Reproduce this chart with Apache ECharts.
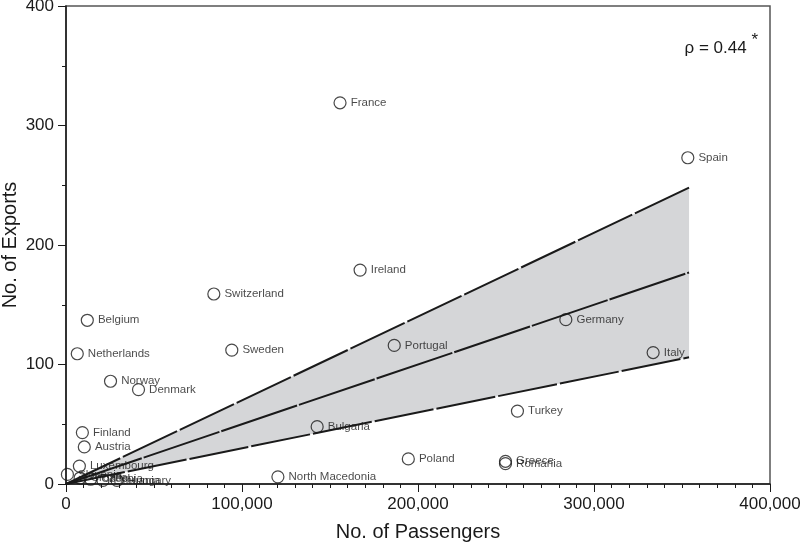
<!DOCTYPE html>
<html>
<head>
<meta charset="utf-8">
<script src="https://cdn.jsdelivr.net/npm/echarts@6/dist/echarts.min.js"></script>
<style>
  html, body { margin: 0; padding: 0; background: #fff; }
  #chart { width: 800px; height: 548px; }
</style>
</head>
<body>
<div id="chart"></div>
<script>
// country data
var countries = ['France', 'Spain', 'Ireland', 'Switzerland', 'Belgium', 'Sweden', 'Portugal',
  'Germany', 'Italy', 'Netherlands', 'Norway', 'Denmark', 'Turkey', 'Bulgaria', 'Finland',
  'Austria', 'Poland', 'Greece', 'Romania', 'North Macedonia', 'Luxembourg',
  'Slovenia', 'Croatia', 'Czechia', 'Lithuania', 'Hungary'];
var passengers = [155700, 353300, 167100, 84000, 12100, 94200, 186500,
  284000, 333600, 6400, 25300, 41200, 256500, 142700, 9300,
  10400, 194500, 249700, 249700, 120400, 7600,
  800, 8000, 14000, 21000, 29000];
var exports = [319, 273, 179, 159, 137, 112, 116,
  137.5, 110, 109, 86, 79, 61, 48, 43,
  31, 21, 19, 17, 6, 15,
  8, 5, 4, 3, 3];

// regression line and confidence band
var fitX = [0, 354000];
var fitMid = [0, 177];
var fitUpper = [0, 248];
var fitLower = [0, 106];

var xTicks = [0, 100000, 200000, 300000, 400000];
var yTicks = [0, 100, 200, 300, 400];

var font = 'Liberation Sans, Arial, Helvetica, sans-serif';
var ink = '#1a1a1a';

var points = countries.map(function (c, i) {
  return { name: c, value: [passengers[i], exports[i]] };
});

function linePoints(ys) {
  return fitX.map(function (x, i) { return [x, ys[i]]; });
}

var bandData = fitX.map(function (x, i) { return [x, fitLower[i], fitUpper[i]]; });

var chart = echarts.init(document.getElementById('chart'));
chart.setOption({
  animation: false,
  grid: {
    left: 66, right: 30, top: 6, bottom: 64,
    outerBoundsMode: 'none', containLabel: false,
    show: true, borderColor: '#555', borderWidth: 1.5, backgroundColor: 'transparent'
  },
  xAxis: {
    type: 'value',
    min: xTicks[0], max: xTicks[xTicks.length - 1], interval: 100000,
    name: 'No. of Passengers', nameLocation: 'middle', nameGap: 38, nameMoveOverlap: false,
    nameTextStyle: { fontFamily: font, fontSize: 20, color: ink },
    axisLine: { lineStyle: { color: ink, width: 1.5 } },
    axisTick: { length: 8, lineStyle: { color: ink } },
    minorTick: { show: true, splitNumber: 10, length: 4, lineStyle: { color: ink } },
    splitLine: { show: false },
    axisLabel: {
      fontFamily: font, fontSize: 17, color: ink, margin: 12,
      formatter: function (v) { return v.toLocaleString('en-US'); }
    }
  },
  yAxis: {
    type: 'value',
    min: yTicks[0], max: yTicks[yTicks.length - 1], interval: 100,
    name: 'No. of Exports', nameLocation: 'middle', nameGap: 46, nameMoveOverlap: false,
    nameTextStyle: { fontFamily: font, fontSize: 20, color: ink },
    axisLine: { lineStyle: { color: ink, width: 1.5 } },
    axisTick: { length: 8, lineStyle: { color: ink } },
    minorTick: { show: true, splitNumber: 2, length: 4, lineStyle: { color: ink } },
    splitLine: { show: false },
    axisLabel: { fontFamily: font, fontSize: 17, color: ink, margin: 12 }
  },
  graphic: [{
    type: 'text', right: 42, top: 32,
    style: {
      text: '{a|ρ = 0.44 }{b|*}',
      rich: {
        a: { fontFamily: font, fontSize: 17, fill: ink, verticalAlign: 'bottom' },
        b: { fontFamily: font, fontSize: 17, fill: ink, verticalAlign: 'top', padding: [0, 0, 8, 0] }
      }
    }
  }],
  series: [
    {
      type: 'custom',
      data: bandData,
      silent: true,
      z: 1,
      renderItem: function (params, api) {
        if (params.dataIndex !== 0) return;
        var pts = [];
        var i;
        for (i = 0; i < fitX.length; i++) pts.push(api.coord([fitX[i], fitUpper[i]]));
        for (i = fitX.length - 1; i >= 0; i--) pts.push(api.coord([fitX[i], fitLower[i]]));
        return { type: 'polygon', shape: { points: pts }, style: { fill: '#d5d6d8' } };
      }
    },
    {
      type: 'line', data: linePoints(fitUpper), showSymbol: false, silent: true, z: 2,
      lineStyle: { color: ink, width: 2, type: [60, 3] }
    },
    {
      type: 'line', data: linePoints(fitMid), showSymbol: false, silent: true, z: 2,
      lineStyle: { color: ink, width: 2, type: [80, 2] }
    },
    {
      type: 'line', data: linePoints(fitLower), showSymbol: false, silent: true, z: 2,
      lineStyle: { color: ink, width: 2, type: [60, 3] }
    },
    {
      type: 'scatter', data: points, z: 3,
      symbol: 'circle', symbolSize: 12,
      itemStyle: { color: 'rgba(255,255,255,0)', borderColor: ink, borderWidth: 1.2 },
      label: {
        show: true, position: 'right', distance: 4,
        formatter: '{b}', fontFamily: font, fontSize: 11.5, color: ink
      }
    }
  ]
});
</script>
</body>
</html>
